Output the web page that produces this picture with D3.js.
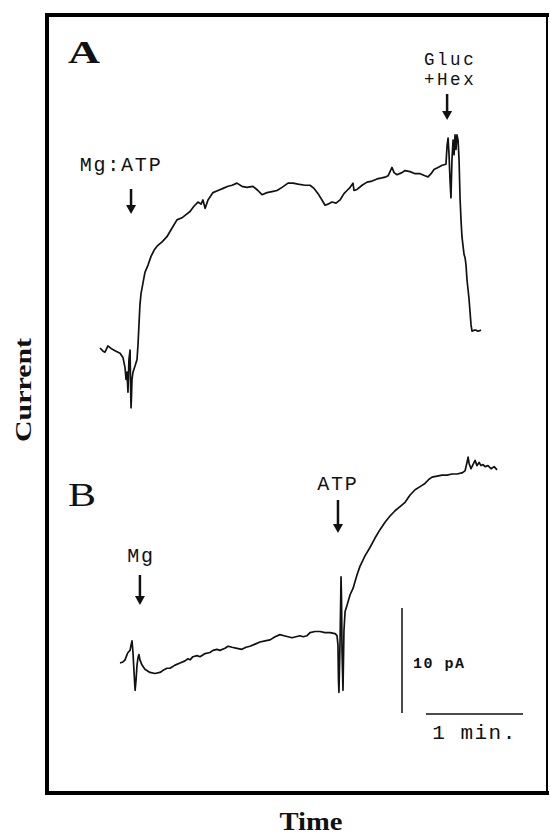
<!DOCTYPE html>
<meta charset="utf-8">

<div id="trace-chart"></div>

<script src="https://cdn.jsdelivr.net/npm/d3@7"></script>

<style type="text/css">
  body { margin: 0; background: #fff; }
  text { fill: #111; }
  .mono { font-family: "Liberation Mono", monospace; }
  .serif { font-family: "Liberation Serif", serif; }
</style>

<script>

// trace A (Mg:ATP, then Gluc + Hex) - time in s, current in pA
var timeA = [0,1.9,3.1,4.9,7.4,9.9,12.4,14.2,15.5,16.1,
  16.7,17.3,17.9,18.6,18.9,19.2,19.5,19.8,20.4,21.7,
  22.9,23.5,24.1,24.7,25.4,26.6,27.8,29.7,31.5,33.4,
  35.3,38.4,41.4,44.5,47.6,50.7,53.2,55.7,58.1,60.6,
  62.5,63.7,65.0,66.8,69.9,73.0,76.1,79.2,81.7,84.7,
  87.8,90.9,94.6,97.7,100.2,103.3,106.4,109.5,112.6,116.3,
  119.4,122.5,126.8,129.9,132.4,134.9,137.3,139.2,141.0,143.5,
  146.0,148.5,150.9,152.8,154.7,156.5,157.1,159.0,162.1,165.2,
  168.3,171.4,174.4,176.9,178.2,179.4,180.6,181.9,183.7,186.8,
  188.7,191.8,194.9,198.0,201.0,202.9,204.8,206.6,209.1,211.6,
  214.0,214.7,215.3,215.9,216.5,217.1,217.7,218.4,219.0,219.6,
  220.2,220.8,221.5,222.1,222.7,223.3,223.9,224.5,225.2,225.8,
  226.4,227.0,227.7,228.3,228.9,229.5,230.1,231.4,232.6,233.8,
  235.7];
var currentA = [0,-0.3,-0.4,0.2,-0.1,-0.3,-0.5,-0.9,-1.9,-3.0,
  -2.3,-4.2,-1.1,-0.2,-3.5,-5.7,-4.5,-3.0,-2.3,-1.7,
  -1.1,0.3,2.2,4.1,5.2,6.2,7.2,7.9,8.7,9.3,
  9.7,10.1,10.6,11.4,12.2,12.4,12.7,13.0,13.5,13.9,
  13.7,14.1,13.3,14.1,14.8,15.0,15.2,15.4,15.5,15.7,
  15.4,15.3,15.4,15.0,14.6,14.8,14.9,15.0,15.3,15.7,
  15.7,15.6,15.5,15.5,15.2,14.7,14.1,13.6,13.7,13.9,
  13.8,14.1,14.7,15.0,15.3,15.7,15.0,15.1,15.5,15.8,
  15.9,16.1,16.2,16.3,16.4,16.8,17.2,16.7,16.5,16.7,
  16.9,16.8,16.6,16.6,16.4,16.3,16.6,17.0,17.2,17.4,
  17.5,19.3,20.0,18.4,16.0,14.3,17.9,19.8,18.4,20.3,
  18.9,20.3,19.8,17.9,14.3,12.2,10.6,9.8,8.9,8.6,
  7.9,6.5,5.5,4.6,3.4,2.2,1.6,1.7,1.7,1.6,
  1.7];

// trace B (Mg, then ATP)
var timeB = [12.4,14.2,15.5,16.7,17.3,18.6,19.2,19.8,20.4,21.0,
  21.7,22.3,22.9,23.5,24.1,24.7,26.0,27.8,30.9,34.0,
  37.1,39.0,41.4,43.3,46.4,49.5,52.6,54.4,55.7,57.5,
  60.0,61.9,65.0,68.0,69.9,72.4,74.2,77.3,79.2,81.7,
  84.7,87.8,90.3,92.8,95.9,99.0,102.1,105.2,108.3,111.3,
  113.8,116.3,118.8,121.2,123.7,125.6,128.1,129.9,133.0,136.1,
  139.2,142.3,145.4,146.6,147.2,147.5,147.8,148.5,149.1,149.4,
  149.7,150.3,150.9,151.6,152.8,154.7,156.5,159.0,160.8,163.9,
  167.0,170.1,173.2,176.3,179.4,182.5,185.6,188.7,191.8,194.9,
  198.0,201.0,203.5,205.4,208.5,211.6,214.7,217.7,220.8,223.9,
  225.8,227.0,227.7,228.3,229.5,230.7,232.0,233.2,234.5,235.7,
  236.9,238.2,240.0,241.9,243.8,245.6];
var currentB = [0,0.1,0.3,0.8,1.0,1.2,1.7,2.1,1.0,-0.7,
  -2.6,-1.6,-0.2,0.5,0.8,0.3,-0.2,-0.6,-0.9,-1.0,
  -0.9,-0.7,-0.5,-0.5,-0.2,0,0.2,0.4,0.3,0.6,
  0.7,0.6,0.9,1.0,1.2,1.3,1.2,1.4,1.6,1.5,
  1.4,1.3,1.5,1.6,1.8,2.0,2.1,2.2,2.5,2.7,
  2.6,2.5,2.4,2.5,2.6,2.5,2.6,2.9,3.0,3.0,
  2.9,2.9,2.8,2.6,1.7,-1.6,-2.8,2.2,8.2,6.0,
  1.2,-2.6,3.1,4.9,5.5,6.5,7.1,8.4,9.2,10.2,
  11.0,11.9,12.7,13.4,14.0,14.5,14.9,15.3,16.0,16.5,
  16.8,17.1,17.5,17.7,17.8,17.9,17.9,18.0,18.0,18.1,
  18.3,19.1,19.6,19.0,18.5,18.9,19.3,18.8,19.1,18.8,
  18.9,18.7,18.8,18.5,18.7,18.4];

// additions (arrow times) and their labels
var addTimesA = [19.2, 214.7];
var addLabelsA = [["Mg:ATP"], ["Gluc", "+Hex"]];
var addTimesB = [24.7, 147.2];
var addLabelsB = [["Mg"], ["ATP"]];

// scale bars
var barCurrent = 10, barCurrentLabel = "10 pA";
var barTime = 60, barTimeLabel = "1 min.";


var width = 550, height = 837;

var svg = d3.select("#trace-chart")
  .append("svg")
    .attr("width", width)
    .attr("height", height);

var x = d3.scaleLinear().domain([0, 240]).range([100, 488]);
var yA = d3.scaleLinear().domain([0, 10]).range([348, 243]);
var yB = d3.scaleLinear().domain([0, 10]).range([663, 558]);

// frame
svg.append("line").attr("x1", 47).attr("x2", 47).attr("y1", 13).attr("y2", 795)
  .attr("stroke", "#000").attr("stroke-width", 4);
svg.append("line").attr("x1", 45).attr("x2", 549).attr("y1", 15).attr("y2", 15)
  .attr("stroke", "#000").attr("stroke-width", 4);
svg.append("line").attr("x1", 45).attr("x2", 549).attr("y1", 793).attr("y2", 793)
  .attr("stroke", "#000").attr("stroke-width", 4);
svg.append("line").attr("x1", 547).attr("x2", 547).attr("y1", 15).attr("y2", 793)
  .attr("stroke", "#000").attr("stroke-width", 2);

// traces
function drawTrace(times, currents, y) {
  var pts = times.map(function(t, i) { return [t, currents[i]]; });
  svg.append("path")
    .datum(pts)
    .attr("fill", "none")
    .attr("stroke", "#111")
    .attr("stroke-width", 1.7)
    .attr("stroke-linejoin", "round")
    .attr("d", d3.line()
      .x(function(d) { return x(d[0]); })
      .y(function(d) { return y(d[1]); }));
}
drawTrace(timeA, currentA, yA);
drawTrace(timeB, currentB, yB);

// arrows with labels
function drawArrow(cx, y1, y2) {
  svg.append("line").attr("x1", cx).attr("x2", cx).attr("y1", y1).attr("y2", y2 - 7)
    .attr("stroke", "#111").attr("stroke-width", 2.5);
  svg.append("path")
    .attr("d", "M" + (cx - 5) + "," + (y2 - 9) + "L" + (cx + 5) + "," + (y2 - 9) + "L" + cx + "," + y2 + "Z")
    .attr("fill", "#111");
}
function drawLabel(lines, cx, baseline) {
  var size = lines.length > 1 ? 17.5 : 20;
  lines.forEach(function(s, i) {
    svg.append("text")
      .attr("class", "mono")
      .attr("x", cx)
      .attr("y", baseline + i * 20)
      .attr("text-anchor", "middle")
      .style("font-size", size + "px")
      .style("letter-spacing", lines.length > 1 ? "2.6px" : "1.8px")
      .text(s);
  });
}

// arrow layout: [top, tip, label baseline, label dx]
var arrowLayoutA = [[189, 214, 171, -10], [94, 120, 65, 3]];
var arrowLayoutB = [[575, 605, 562, 1], [500, 533, 490, 0]];

addTimesA.forEach(function(t, i) {
  var l = arrowLayoutA[i];
  drawArrow(x(t), l[0], l[1]);
  drawLabel(addLabelsA[i], x(t) + l[3], l[2]);
});
addTimesB.forEach(function(t, i) {
  var l = arrowLayoutB[i];
  drawArrow(x(t), l[0], l[1]);
  drawLabel(addLabelsB[i], x(t) + l[3], l[2]);
});

// panel letters
svg.append("text").attr("class", "serif")
  .attr("x", 68).attr("y", 63)
  .attr("textLength", 32).attr("lengthAdjust", "spacingAndGlyphs")
  .style("font-size", "32px").style("font-weight", "bold")
  .text("A");
svg.append("text").attr("class", "serif")
  .attr("x", 68).attr("y", 506)
  .attr("textLength", 28).attr("lengthAdjust", "spacingAndGlyphs")
  .style("font-size", "34px")
  .text("B");

// scale bars
var vbarX = 402, vbarBottom = 713;
var vbarLen = yB(0) - yB(barCurrent);
svg.append("line").attr("x1", vbarX).attr("x2", vbarX)
  .attr("y1", vbarBottom).attr("y2", vbarBottom - vbarLen)
  .attr("stroke", "#111").attr("stroke-width", 1.5);
svg.append("text").attr("class", "mono")
  .attr("x", 413).attr("y", 668)
  .style("font-size", "15px").style("font-weight", "bold")
  .style("letter-spacing", "1.5px")
  .text(barCurrentLabel);

var hbarLeft = 426, hbarY = 714;
var hbarLen = x(barTime) - x(0);
svg.append("line").attr("x1", hbarLeft).attr("x2", hbarLeft + hbarLen)
  .attr("y1", hbarY).attr("y2", hbarY)
  .attr("stroke", "#111").attr("stroke-width", 1.5);
svg.append("text").attr("class", "mono")
  .attr("x", hbarLeft + hbarLen / 2).attr("y", 739)
  .attr("text-anchor", "middle")
  .style("font-size", "21px")
  .style("letter-spacing", "1.5px")
  .text(barTimeLabel);

// axis titles
svg.append("text").attr("class", "serif")
  .attr("transform", "translate(31,390)rotate(-90)")
  .attr("text-anchor", "middle")
  .attr("textLength", 104).attr("lengthAdjust", "spacingAndGlyphs")
  .style("font-size", "24px").style("font-weight", "bold")
  .text("Current");

svg.append("text").attr("class", "serif")
  .attr("x", 311).attr("y", 830)
  .attr("text-anchor", "middle")
  .attr("textLength", 63).attr("lengthAdjust", "spacingAndGlyphs")
  .style("font-size", "25px").style("font-weight", "bold")
  .text("Time");

</script>
